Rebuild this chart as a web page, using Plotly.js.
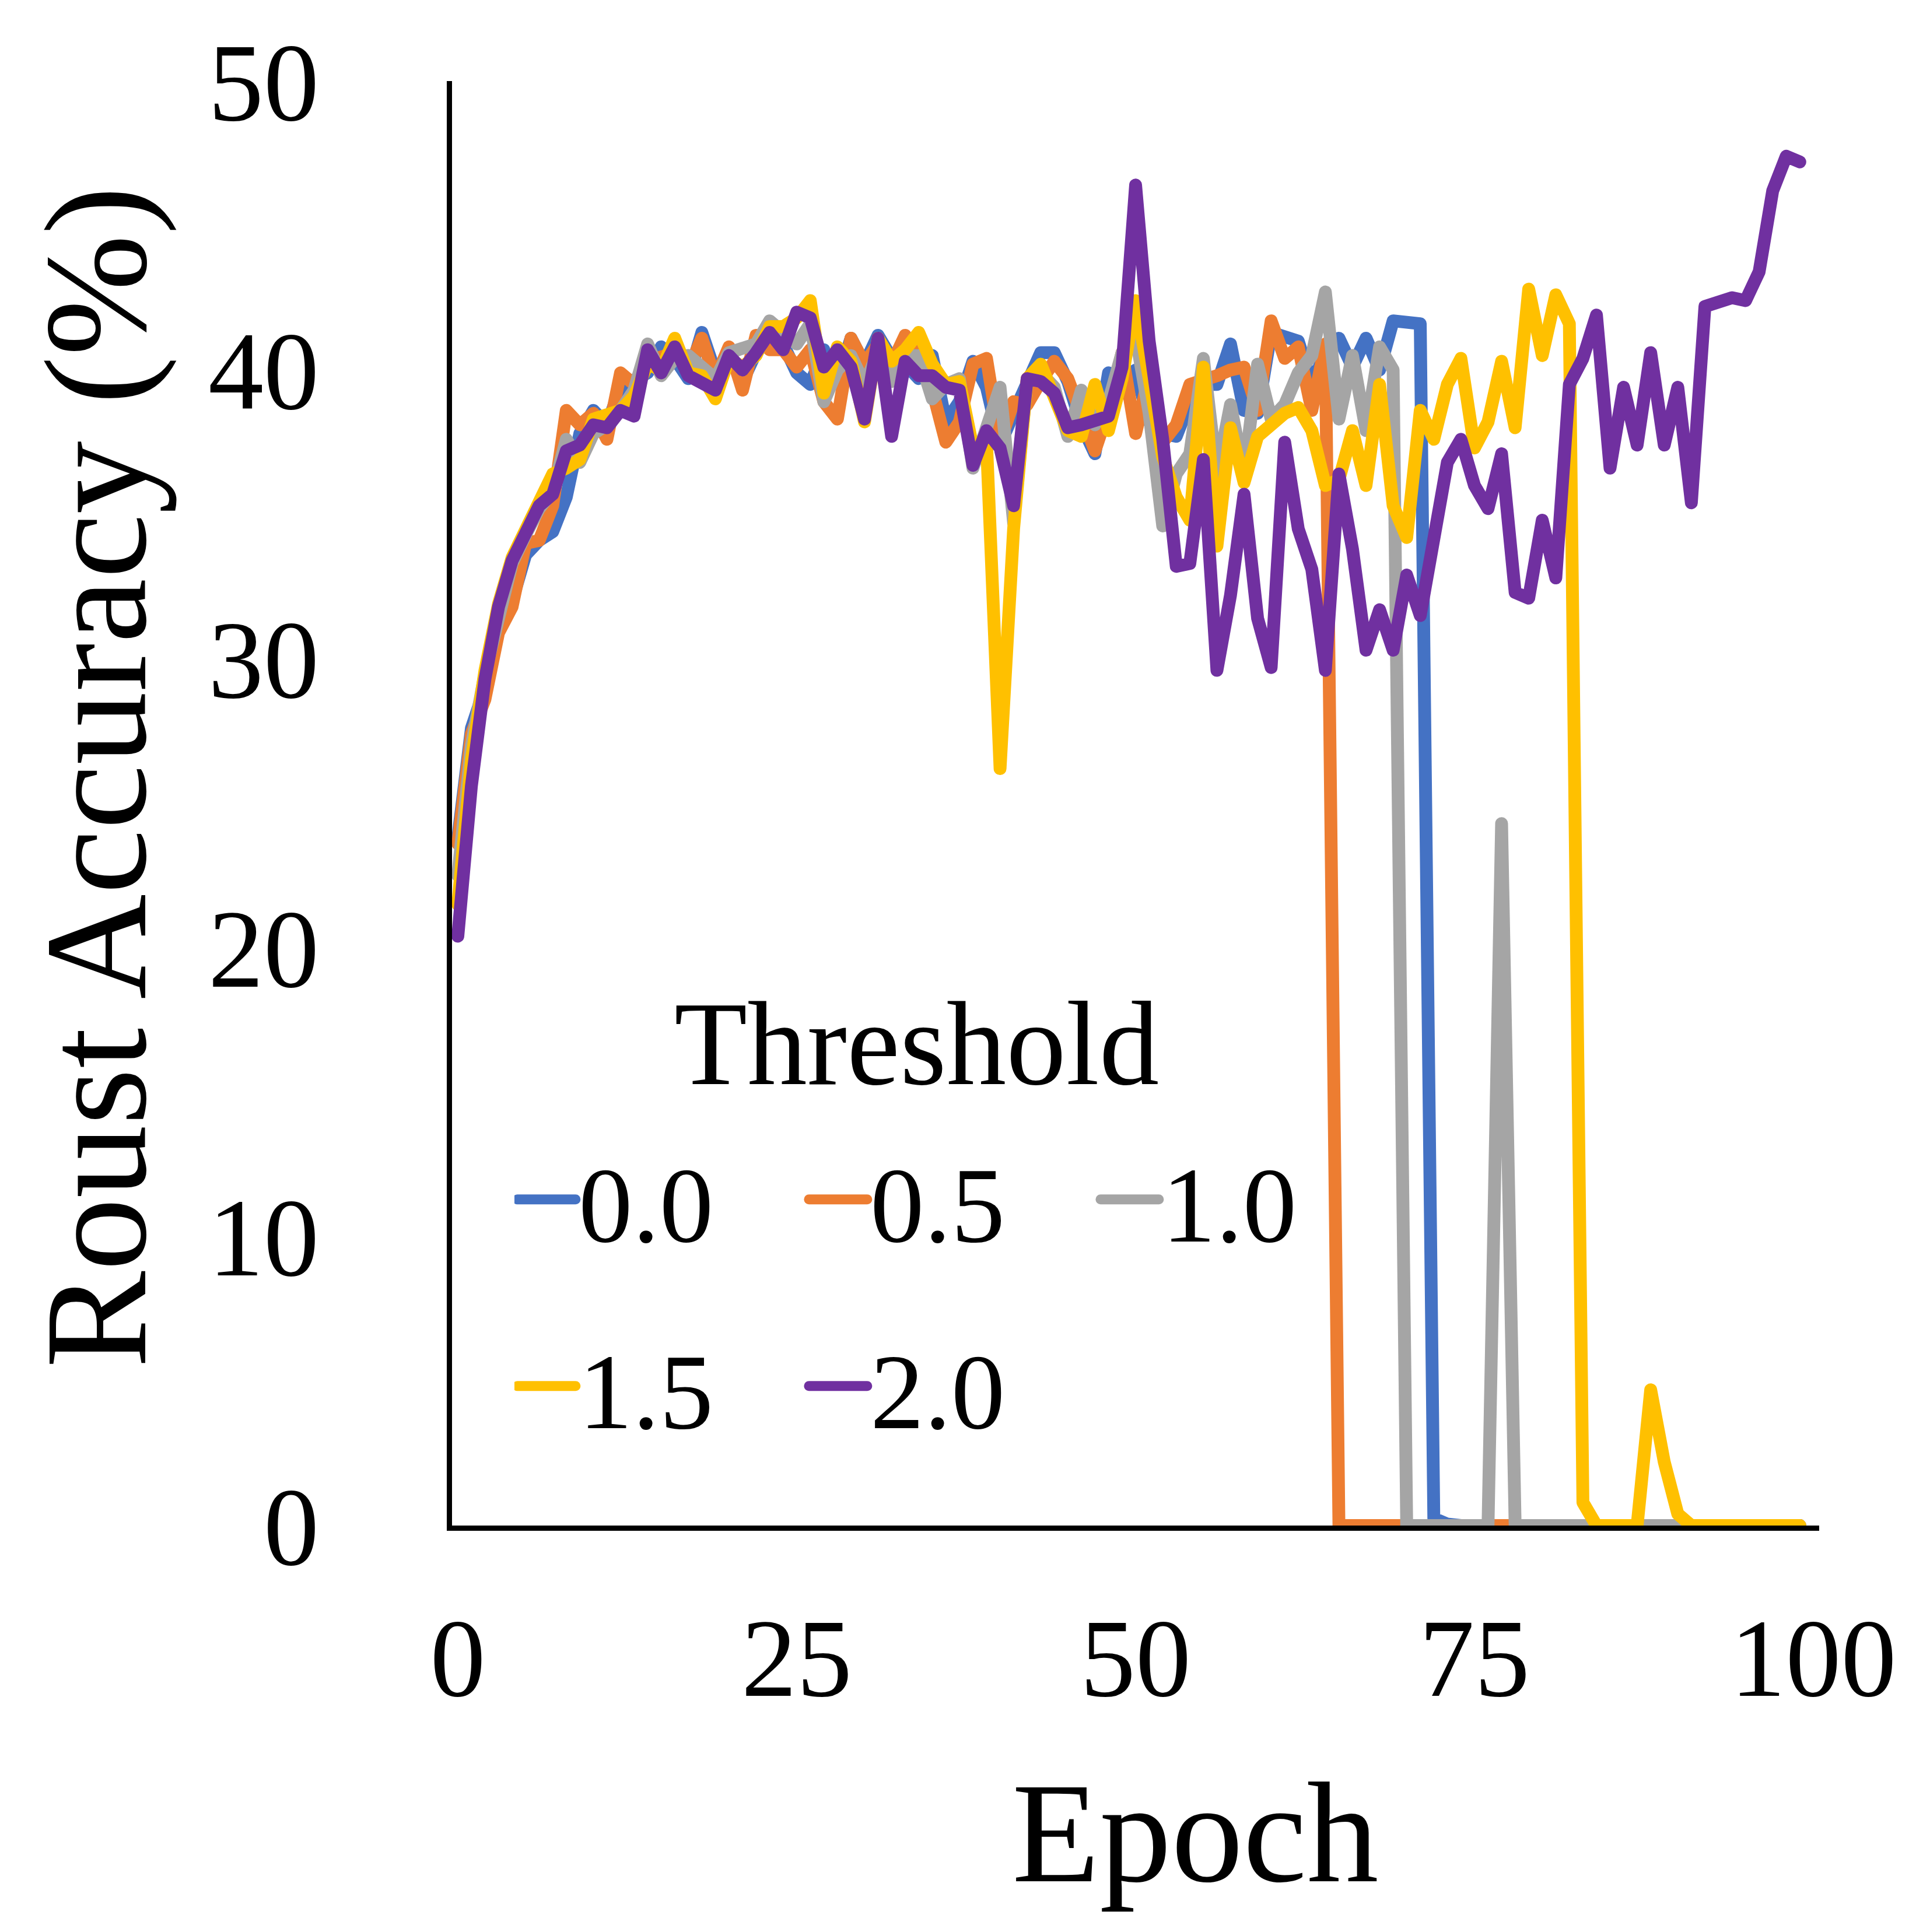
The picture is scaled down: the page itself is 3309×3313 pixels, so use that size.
<!DOCTYPE html>
<html>
<head>
<meta charset="utf-8">
<script src="https://cdn.plot.ly/plotly-3.0.1.min.js"></script>
<style>
  html, body { margin: 0; padding: 0; background: #fff; }
  #chart { width: 3309px; height: 3313px; }
  /* Excel style round joins and caps on the lines */
  .js-line { stroke-linejoin: round; stroke-linecap: round; }
  /* plotly caps legend line width, the original uses the full width */
  .legendlines path.js-line { stroke-width: 17px !important; }
</style>
</head>
<body>
<div id="chart"></div>
<script>
// epochs 0..99
const epochs = Array.from({ length: 100 }, (_, i) => i);

const thresholds = ['0.0', '0.5', '1.0', '1.5', '2.0'];
const colors = ['#4472C4', '#ED7D31', '#A5A5A5', '#FFC000', '#7030A0'];

// robust accuracy (%) per epoch
const acc00 = [
  23.8, 27.6, 29.0, 31.0, 32.0, 33.6, 34.1, 34.4, 35.6, 37.8,
  38.6, 38.1, 39.4, 39.6, 39.9, 40.8, 40.4, 39.7, 41.3, 39.9,
  40.5, 39.6, 40.6, 41.1, 40.9, 39.9, 39.5, 40.7, 39.6, 41.1,
  40.2, 41.2, 40.4, 40.2, 39.7, 40.5, 38.2, 38.9, 40.3, 39.4,
  37.4, 38.5, 39.6, 40.6, 40.6, 39.6, 38.1, 37.1, 39.9, 39.6,
  40.0, 38.2, 37.8, 37.7, 38.9, 39.5, 39.5, 40.9, 38.6, 38.5,
  41.3, 41.2, 41.0, 39.5, 40.6, 41.1, 40.1, 41.1, 40.0, 41.7,
  41.6, 41.6, 0.25, 0.05, 0, 0, 0, 0, 0, 0,
  0, 0, 0, 0, 0, 0, 0, 0, 0, 0,
  0, 0, 0, 0.1, 0, 0, 0, 0, 0, 0
];
const acc05 = [
  23.6, 27.4, 28.6, 30.9, 31.8, 34.0, 34.1, 35.3, 38.6, 38.1,
  38.5, 37.6, 39.9, 39.5, 40.3, 40.4, 40.6, 40.0, 41.1, 39.7,
  40.8, 39.3, 41.2, 40.7, 40.7, 40.1, 40.7, 38.9, 38.3, 41.1,
  40.2, 40.9, 40.2, 41.2, 40.5, 39.3, 37.5, 38.2, 40.2, 40.4,
  37.5, 38.9, 38.8, 39.6, 40.3, 39.7, 38.4, 37.2, 38.6, 40.6,
  37.8, 39.8, 37.5, 38.1, 39.5, 39.6, 39.8, 40.0, 40.1, 38.6,
  41.7, 40.4, 40.8, 38.6, 40.9, 0, 0, 0, 0, 0,
  0, 0, 0, 0, 0, 0.1, 0, 0, 0, 0,
  0, 0, 0.1, 0, 0, 0, 0, 0, 0, 0,
  0, 0, 0, 0, 0, 0, 0, 0, 0, 0
];
const acc10 = [
  22.5, 27.0, 29.5, 31.5, 33.3, 34.3, 35.2, 35.8, 37.6, 36.8,
  37.8, 38.1, 38.6, 39.3, 40.9, 39.8, 40.4, 40.5, 40.1, 39.7,
  40.6, 40.7, 40.9, 41.7, 41.3, 40.9, 41.6, 38.9, 40.0, 40.5,
  39.5, 40.6, 39.6, 40.5, 40.5, 39.0, 39.5, 39.7, 36.6, 37.9,
  39.4, 34.7, 39.7, 39.9, 39.4, 37.7, 39.3, 38.1, 38.9, 40.6,
  41.2, 38.5, 34.6, 36.4, 37.1, 40.4, 36.4, 38.8, 36.4, 40.2,
  38.3, 38.8, 39.9, 40.5, 42.7, 38.3, 40.5, 37.9, 40.8, 40.0,
  0, 0, 0, 0, 0, 0, 0, 24.3, 0, 0,
  0, 0, 0, 0, 0, 0, 0, 0, 0, 0,
  0, 0, 0, 0, 0, 0, 0, 0, 0, 0
];
const acc15 = [
  21.5, 26.5, 29.6, 31.9, 33.5, 34.5, 35.4, 36.4, 36.6, 36.9,
  38.3, 38.4, 38.6, 39.1, 40.2, 40.0, 41.1, 39.9, 39.8, 39.0,
  40.4, 40.1, 40.5, 41.5, 41.5, 41.8, 42.4, 39.2, 40.8, 40.3,
  38.2, 41.1, 40.3, 40.7, 41.3, 40.2, 39.5, 39.6, 37.3, 37.5,
  26.2, 34.5, 39.7, 40.2, 39.0, 37.9, 37.7, 39.5, 37.9, 39.7,
  42.4, 39.5, 37.0, 35.6, 34.8, 40.1, 33.9, 38.0, 36.1, 37.7,
  38.1, 38.5, 38.7, 37.9, 36.0, 36.2, 37.9, 36.0, 39.5, 35.3,
  34.2, 38.6, 37.6, 39.5, 40.4, 37.3, 38.2, 40.3, 38.0, 42.8,
  40.5, 42.6, 41.6, 0.8, 0, 0, 0, 0, 4.7, 2.2,
  0.4, 0, 0, 0, 0, 0, 0, 0, 0, 0
];
const acc20 = [
  20.4, 25.6, 29.3, 31.8, 33.4, 34.4, 35.3, 35.7, 37.2, 37.4,
  38.1, 38.0, 38.6, 38.4, 40.7, 39.9, 40.8, 39.8, 39.6, 39.3,
  40.5, 40.0, 40.6, 41.3, 40.7, 42.0, 41.8, 40.1, 40.7, 40.1,
  38.3, 41.1, 37.7, 40.3, 39.8, 39.8, 39.4, 39.3, 36.7, 37.9,
  37.3, 35.3, 39.7, 39.6, 39.2, 38.0, 38.1, 38.3, 38.4, 40.1,
  46.4, 41.0, 37.6, 33.2, 33.3, 36.9, 29.6, 32.2, 35.7, 31.4,
  29.7, 37.5, 34.5, 33.1, 29.6, 36.4, 33.8, 30.3, 31.7, 30.3,
  32.9, 31.5, 34.0, 36.8, 37.6, 36.0, 35.2, 37.1, 32.3, 32.1,
  34.8, 32.8, 39.5, 40.4, 41.9, 36.6, 39.4, 37.4, 40.6, 37.4,
  39.4, 35.4, 42.2, 42.3, 42.5, 42.4, 43.4, 46.2, 47.4, 47.2
];

const series = [acc00, acc05, acc10, acc15, acc20];
const font = 'Liberation Serif, Times New Roman, serif';

const data = series.map((ys, i) => ({
  x: epochs,
  y: ys,
  type: 'scatter',
  mode: 'lines',
  name: thresholds[i],
  legend: i < 3 ? 'legend' : 'legend2',
  line: { color: colors[i], width: 22 },
  hoverinfo: 'x+y+name'
}));

const legendBase = {
  orientation: 'h',
  x: 0.0456,
  xanchor: 'left',
  yanchor: 'bottom',
  bgcolor: 'rgba(0,0,0,0)',
  itemwidth: 100,
  entrywidth: 385,
  font: { family: font, size: 185, color: '#000' },
  itemclick: false,
  itemdoubleclick: false
};

// titles are placed as annotations so they sit where the original has them
const textBase = {
  xref: 'paper', yref: 'paper',
  xanchor: 'center', yanchor: 'middle',
  showarrow: false
};

const layout = {
  width: 3309,
  height: 3313,
  margin: { l: 775, r: 190, t: 139, b: 697 },
  paper_bgcolor: '#fff',
  plot_bgcolor: '#fff',
  font: { family: font, color: '#000' },
  showlegend: true,
  xaxis: {
    range: [-0.43, 100.43],
    tickvals: [0, 25, 50, 75, 100],
    showgrid: false,
    zeroline: false,
    showline: true,
    linecolor: '#000',
    linewidth: 9,
    ticks: '',
    ticklabelstandoff: 55,
    tickfont: { family: font, size: 190, color: '#000' }
  },
  yaxis: {
    range: [0, 50],
    dtick: 10,
    showgrid: false,
    zeroline: false,
    showline: true,
    linecolor: '#000',
    linewidth: 9,
    ticks: '',
    ticklabelstandoff: 181,
    tickfont: { family: font, size: 190, color: '#000' }
  },
  legend: Object.assign({}, legendBase, { y: 0.1744 }),
  legend2: Object.assign({}, legendBase, { y: 0.0452 }),
  annotations: [
    Object.assign({}, textBase, {
      text: 'Threshold', x: 0.3396, y: 0.3335,
      font: { family: font, size: 205, color: '#000' }
    }),
    Object.assign({}, textBase, {
      text: 'Epoch', x: 0.5435, y: -0.2128,
      font: { family: font, size: 246, color: '#000' }
    }),
    Object.assign({}, textBase, {
      text: 'Roust Accuracy (%)', x: -0.2602, y: 0.518, textangle: -90,
      font: { family: font, size: 250, color: '#000' }
    })
  ]
};

Plotly.newPlot('chart', data, layout, { displayModeBar: false, responsive: false });
</script>
</body>
</html>
